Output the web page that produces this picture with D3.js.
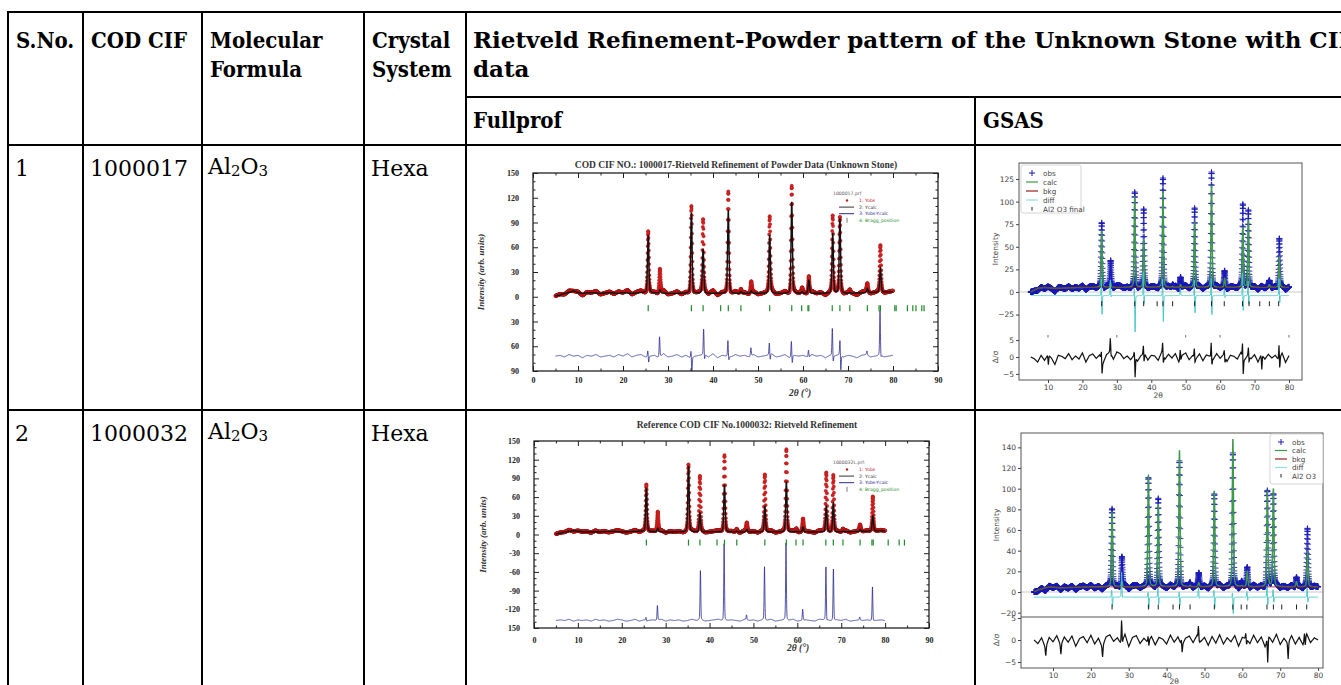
<!DOCTYPE html>
<html>
<head>
<meta charset="utf-8">
<script src="https://cdn.jsdelivr.net/npm/d3@7"></script>
<style>
body { margin: 0; background: #fff; }
svg { display: block; }
</style>
</head>
<body>
<svg width="1341" height="685"></svg>
<script>
// ---------- table text ----------
headLine1 = ['S.No.', 'COD CIF', 'Molecular', 'Crystal']
headLine2 = ['', '', 'Formula', 'System']
spanTitle = 'Rietveld Refinement-Powder pattern of the Unknown Stone with CIF'
spanTitle2 = 'data'
programs = ['Fullprof', 'GSAS']
sNo = ['1', '2']
codCif = ['1000017', '1000032']
formula = [['Al', '2', 'O', '3'], ['Al', '2', 'O', '3']]
crystal = ['Hexa', 'Hexa']

// ---------- Fullprof panels ----------
fpTitles = ['COD CIF NO.: 1000017-Rietveld Refinement of Powder Data (Unknown Stone)',
            'Reference COD CIF No.1000032: Rietveld Refinement']
fpLegendHead = ['1000017.prf', '1000032L.prf:']
fpLegendText = ['1: Yobs', '2: Ycalc', '3: Yobs-Ycalc', '4: Bragg_position']
fp1YTicks = [-90, -60, -30, 0, 30, 60, 90, 120, 150]
fp1YLabels = ['90', '60', '30', '0', '30', '60', '90', '120', '150']
fp2YTicks = [-150, -120, -90, -60, -30, 0, 30, 60, 90, 120, 150]
fp2YLabels = ['150', '-120', '-90', '-60', '-30', '0', '30', '60', '90', '120', '150']
fpXTicks = [0, 10, 20, 30, 40, 50, 60, 70, 80, 90]

// peaks: [2theta, observed max, calculated max]
fp1Peaks = [[25.6, 80, 75], [28.2, 35, 8], [35.2, 112, 102], [37.8, 92, 58], [43.4, 128, 105],
            [46.2, 9, 6], [48.5, 18, 7], [52.6, 95, 75], [57.5, 135, 115], [59.8, 10, 6],
            [61.3, 25, 20], [66.6, 98, 77], [68.2, 95, 95], [70.4, 8, 5], [74.3, 15, 10], [77.2, 62, 35]]
fp2Peaks = [[25.6, 80, 75], [28.2, 36, 10], [35.2, 112, 110], [37.8, 93, 35], [43.4, 128, 80],
            [46.2, 9, 5], [48.5, 18, 8], [52.6, 96, 45], [57.5, 136, 85], [59.8, 10, 5],
            [61.3, 25, 12], [66.6, 99, 45], [68.2, 96, 50], [70.4, 8, 5], [74.3, 15, 8], [77.2, 62, 30]]
fp1Bg = [[5, 1], [6, 2], [7, 4], [8, 5], [9, 7], [10, 5], [11, 4], [13, 5], [15, 4], [17, 5], [19, 4],
         [20, 5], [22, 4], [24, 5], [30, 4], [40, 4], [50, 4], [60, 4], [70, 4], [80, 6]]
fp2Bg = [[5, 1], [6, 2], [7, 4], [8, 5], [9, 6], [10, 5], [12, 4], [15, 4], [18, 5], [20, 4],
         [24, 5], [30, 4], [40, 4], [50, 4], [60, 4], [70, 4], [80, 6]]
fp1Bragg = [25.6, 35.2, 37.8, 41.7, 43.4, 46.2, 52.6, 57.5, 59.7, 61.1, 61.3, 66.5, 68.2, 70.4,
            74.3, 76.9, 77.2, 80.4, 80.7, 83.2, 84.4, 85.1, 86.4, 86.9]
fp2Bragg = [25.6, 35.2, 37.8, 41.7, 43.4, 46.2, 52.6, 57.5, 59.7, 61.3, 66.5, 68.2, 70.4,
            74.3, 77.0, 77.3, 80.7, 83.2, 84.4]
// difference curve: baseline, spikes [2theta, up, down], small wiggle per degree from 5 to 80
fp1DiffBase = -72
fp2DiffBase = -138
fp1DiffSpikes = [[25.6, 8, 8], [28.2, 25, 0], [35.2, 10, 20], [38, 32, 8], [43.4, 20, 6], [48.5, 10, 0],
                 [52.6, 15, 8], [57.5, 20, 10], [61.3, 8, 2], [66.6, 35, 10], [68.3, 20, 20],
                 [74.3, 5, 0], [77.2, 55, 5]]
fp2DiffSpikes = [[25.6, 5, 2], [28.2, 24, 0], [38, 80, 2], [43.4, 125, 2], [48.5, 8, 0], [52.6, 86, 2],
                 [57.5, 125, 2], [61.3, 18, 0], [66.6, 87, 5], [68.3, 84, 2], [74.3, 5, 0], [77.2, 55, 2]]
fp1DiffWiggle = [0, 1, -1, 2, 0, 1, -2, 1, 0, 2, -1, 0, 1, -1, 2, 0, 3, -1, 1, 2, -1, 0, 1, -2, 3,
                 -1, 0, 2, -1, 1, -2, 0, 1, 2, -1, 3, -2, 1, 0, -1, 2, 0, 1, -1, 2, -1, 0, 1, 3, -1,
                 0, 2, -2, 1, 0, 1, -1, 2, 0, 1, -2, 1, 0, 2, -1, 1, 0, -2, 1, 2, -1, 0, 1, -1, 0, 1]
fp2DiffWiggle = [0, 1, 0, 2, -1, 1, 0, 1, -1, 2, 0, 1, -1, 0, 2, 1, -1, 0, 2, -1, 1, 0, 1, 0, 2,
                 -1, 1, 0, 1, -1, 0, 2, 0, 1, -1, 0, 1, 2, -1, 0, 1, 0, -1, 2, 0, 1, -1, 1, 0, 2,
                 -1, 0, 1, 0, 2, -1, 0, 1, 0, -1, 2, 1, 0, -1, 1, 0, 2, -1, 0, 1, 0, 1, -1, 0, 1, 0]

// ---------- GSAS panels ----------
gsLegend1 = ['obs', 'calc', 'bkg', 'diff', 'Al2 O3 final']
gsLegend2 = ['obs', 'calc', 'bkg', 'diff', 'Al2 O3']
gs1YTicks = [-25, 0, 25, 50, 75, 100, 125]
gs2YTicks = [-20, 0, 20, 40, 60, 80, 100, 120, 140]
gsResTicks = [-5, 0, 5]
gsXTicks = [10, 20, 30, 40, 50, 60, 70, 80]
gs1Peaks = [[25.6, 78, 68], [28.2, 33, 10], [35.2, 110, 106], [37.8, 90, 58], [43.4, 125, 112],
            [46.2, 8, 6], [48.5, 17, 8], [52.6, 93, 78], [57.5, 133, 118], [61.3, 23, 15],
            [66.6, 97, 72], [68.2, 90, 80], [74.3, 12, 8], [77.2, 60, 38]]
gs2Peaks = [[25.6, 80, 78], [28.2, 35, 10], [35.2, 111, 113], [37.8, 90, 85], [43.4, 127, 137],
            [46.2, 8, 6], [48.5, 18, 9], [52.6, 95, 98], [57.5, 134, 148], [59.8, 10, 6],
            [61.3, 24, 20], [66.6, 98, 98], [68.2, 95, 100], [70.4, 6, 5], [74.3, 15, 10], [77.2, 60, 38]]
gs1Bg = [[5, 0], [6, 2], [7, 4], [9, 5], [12, 4], [20, 5], [30, 5], [40, 5], [50, 5], [60, 5], [70, 5], [80, 5]]
gs2Bg = [[5, 0], [6, 2], [7, 3], [9, 5], [12, 4], [20, 5], [30, 5], [40, 5], [50, 5], [60, 5], [70, 5], [80, 5]]
gs1Bragg = [25.6, 35.2, 37.8, 41.7, 43.4, 46.2, 52.6, 57.5, 61.2, 66.5, 68.4, 71.5, 74.3, 77.0]
gs2Bragg = [25.6, 35.2, 37.8, 41.7, 43.4, 46.2, 52.6, 57.5, 59.7, 61.2, 66.5, 68.2, 70.4, 74.3, 77.0]
gs1TopMarks = [10, 30, 50, 60, 80]
gs1DiffBase = -4
gs2DiffBase = -5
gs1DiffSpikes = [[25.6, 22, 24], [28.2, 18, 3], [35.2, 12, 42], [37.8, 28, 12], [43.4, 22, 32],
                 [48.5, 8, 0], [52.6, 20, 22], [57.5, 22, 24], [61.3, 8, 3], [66.6, 28, 20],
                 [68.2, 18, 12], [77.2, 20, 10]]
gs2DiffSpikes = [[25.6, 8, 10], [28.2, 25, 2], [35.2, 6, 12], [37.8, 10, 8], [43.4, 6, 9],
                 [48.5, 10, 2], [52.6, 8, 12], [57.5, 6, 17], [61.3, 6, 4], [66.6, 12, 9],
                 [68.2, 8, 6], [77.2, 10, 6]]
gs1ResSpikes = [[10, 0, 3], [25.6, 3, 4.5], [28.2, 4.5, 1], [35.2, 2, 6.5], [37.8, 3, 3], [43.4, 4, 3],
                [48.5, 3, 1], [52.6, 3, 2], [57.5, 5, 3], [61.3, 2, 2], [66.6, 5, 6], [68.3, 3, 2],
                [72, 0, 4.5], [77.2, 5, 4]]
gs2ResSpikes = [[8, 0, 2], [12, 0, 2.2], [23, 0, 2.5], [28.2, 5.5, 1], [35.2, 1.5, 1.5], [44, 1.5, 2],
                [48.5, 3, 1], [61, 1.5, 1.5], [66.6, 1, 5.5], [72, 0, 3.8], [76.5, 2, 2]]
gs1ResWiggle = [0, -0.5, -1.5, 0.5, -1, 0.8, -0.3, -2.2, 0.5, 0.2, -0.5, 1, -0.8, 0.3, -0.6, 1.2,
                -1.5, 0.4, 0.9, -0.4, 0.6, -1.8, 0.7, 1.5, -0.7, 1.5, 1, -0.5, 0.3, -0.8, 0.6, -1.2,
                0.4, 1.1, -0.9, 0.5, 0.3, -1, 1.4, -0.6, 0.8, -0.3, 1, -1.5, 0.5, 1.2, -0.8, 0.4,
                -0.5, 0.9, -1.1, 0.6, 0.2, -0.7, 1, -0.4, 0.8, -1.3, 0.5, 0.2, -0.6, 1.3, -0.9, 0.4,
                -0.5, 0.7, -1.5, 1, -0.6, 0.8, -0.3, 0.5, -0.9, 1.2, -1.6, 0.4]
gs2ResWiggle = [0, -0.8, 0.5, -1.8, 0.6, -0.4, 1, -1.2, 0.7, -0.5, 0.9, -1.4, 0.3, 0.8, -0.6, 1.1,
                -0.9, 0.4, -1.6, 0.7, 1.2, -0.3, 0.5, -1, 1.3, -1.5, 0.6, 1, -0.8, 0.4, -0.5, 0.8,
                -1.1, 0.6, 0.2, -0.9, 1.1, -0.5, 0.7, -1.3, 0.4, 0.9, -0.6, 1, -0.4, 0.6, -1.2, 0.8,
                -0.7, 1.2, -0.9, 0.5, -0.4, 1, -1.4, 0.6, 0.3, -0.8, 1.1, -0.6, 0.7, -1.5, 0.9, -0.5,
                1.3, -1, 0.4, -0.7, 1, -0.9, 0.6, -1.1, 1.4, -0.6, 0.5, 0]

const svg = d3.select('svg')
const serif = "'DejaVu Serif', 'Liberation Serif', serif"
const serifC = "'DejaVu Serif Condensed', 'DejaVu Serif', serif"
const times = "'Liberation Serif', 'Times New Roman', serif"
const sans = "'DejaVu Sans', sans-serif"

// ---------- table ----------
const colX = [8, 83, 202, 364, 466]
const table = svg.append('g')
const hline = (x1, x2, yy) => table.append('line').attr('x1', x1).attr('x2', x2).attr('y1', yy).attr('y2', yy)
    .attr('stroke', '#000').attr('stroke-width', 2)
const vline = (xx, y1, y2) => table.append('line').attr('x1', xx).attr('x2', xx).attr('y1', y1).attr('y2', y2)
    .attr('stroke', '#000').attr('stroke-width', 2)
hline(7, 1341, 12)
hline(466, 1341, 97)
hline(7, 1341, 145)
hline(7, 1341, 410)
colX.forEach(xx => vline(xx, 11, 685))
vline(975, 97, 685)

const head = (x, y, t) => table.append('text').attr('x', x).attr('y', y).attr('font-family', serifC)
    .attr('font-stretch', 'condensed').attr('font-weight', 'bold').attr('font-size', 22).text(t)
headLine1.forEach((t, i) => head(colX[i] + 8, 48, t))
headLine2.forEach((t, i) => head(colX[i] + 8, 77, t))
const wide = (x, y, t) => table.append('text').attr('x', x).attr('y', y).attr('font-family', serif)
    .attr('font-weight', 'bold').attr('font-size', 23).text(t)
const span = wide(473, 48, spanTitle)
const natural = span.node().getComputedTextLength()
span.attr('word-spacing', Math.max(0, (874 - natural) / (spanTitle.split(' ').length - 1)))
wide(473, 77, spanTitle2)
programs.forEach((t, i) => head([473, 983][i], 128, t))

const rowBase = [176, 441]
sNo.forEach((t, i) => {
    const cells = [sNo[i], codCif[i], null, crystal[i]]
    cells.forEach((c, j) => {
        if (c === null) return
        table.append('text').attr('x', colX[j] + 7).attr('y', rowBase[i])
            .attr('font-family', serif).attr('font-size', 22).text(c)
    })
    const f = table.append('text').attr('x', colX[2] + 6).attr('y', rowBase[i])
        .attr('font-family', serif).attr('font-size', 22)
    formula[i].forEach((p, k) => f.append('tspan').attr('font-size', k % 2 ? 15 : 22)
        .attr('dy', k % 2 ? 2 : -2).text(p))
})

// ---------- helpers ----------
const shape = (dx, w) => 0.7 * Math.exp(-Math.LN2 * (dx / w) ** 2) + 0.3 / (1 + (dx / w) ** 2)
const bgScale = pts => d3.scaleLinear().domain(pts.map(p => p[0])).range(pts.map(p => p[1])).clamp(true)
const wiggleScale = arr => d3.scaleLinear().domain(arr.map((_, i) => 5 + i * 75 / (arr.length - 1))).range(arr)

function profile(xs, peaks, bgPts, col, w, wiggle, amp) {
    const bg = bgScale(bgPts)
    const wg = wiggle ? wiggleScale(wiggle) : () => 0
    return xs.map(t => {
        let v = bg(t) + wg(t) * (amp || 0)
        peaks.forEach(p => { v += (p[col] - bg(p[0])) * shape(t - p[0], w) })
        return [t, v]
    })
}
function diffCurve(xs, base, spikes, wiggle, w) {
    const wg = wiggleScale(wiggle)
    return xs.map(t => {
        let v = base + wg(t)
        spikes.forEach(s => { v += s[1] * shape(t - (s[0] - 0.08), w) - s[2] * shape(t - (s[0] + 0.1), w) })
        return [t, v]
    })
}
let clipN = 0
function clipRect(x0, y0, x1, y1) {
    const id = 'clip' + (clipN++)
    svg.append('clipPath').attr('id', id).append('rect').attr('x', x0).attr('y', y0)
        .attr('width', x1 - x0).attr('height', y1 - y0)
    return `url(#${id})`
}

// ---------- Fullprof drawing ----------
function fullprof(c) {
    const g = svg.append('g')
    const x = d3.scaleLinear().domain([0, 90]).range([c.x0, c.x1])
    const y = d3.scaleLinear().domain(c.yDom).range([c.y1, c.y0])
    const xs = d3.range(5, 80.001, 0.03)
    const obs = profile(xs, c.peaks, c.bg, 1, 0.18, c.wiggle, 1.2)
    const calc = profile(xs, c.peaks, c.bg, 2, 0.18)
    const diff = diffCurve(xs, c.diffBase, c.spikes, c.wiggle, 0.1)
    const plot = g.append('g').attr('clip-path', clipRect(c.x0, c.y0, c.x1, c.y1))
    plot.append('g').selectAll('circle').data(obs).join('circle')
        .attr('cx', d => x(d[0])).attr('cy', d => y(d[1])).attr('r', 1.7)
        .attr('fill', '#d42020').attr('stroke', '#a01010').attr('stroke-width', 0.3)
    const line = d3.line().x(d => x(d[0])).y(d => y(d[1]))
    plot.append('path').attr('d', line(calc)).attr('fill', 'none').attr('stroke', '#111').attr('stroke-width', 1.4)
    plot.append('path').attr('d', line(diff)).attr('fill', 'none').attr('stroke', '#2a2a90').attr('stroke-width', 0.8)
    plot.append('g').selectAll('line').data(c.bragg).join('line')
        .attr('x1', d => x(d)).attr('x2', d => x(d)).attr('y1', y(c.braggY) - 3).attr('y2', y(c.braggY) + 3)
        .attr('stroke', '#1e8a2a').attr('stroke-width', 1.2)

    g.append('rect').attr('x', c.x0).attr('y', c.y0).attr('width', c.x1 - c.x0).attr('height', c.y1 - c.y0)
        .attr('fill', 'none').attr('stroke', '#222').attr('stroke-width', 1.3)
    const style = s => {
        s.select('.domain').remove()
        s.selectAll('line').attr('stroke', '#222')
        s.selectAll('text').attr('font-family', times).attr('font-weight', 'bold').attr('font-size', 8).attr('fill', '#222')
    }
    const minorY = d3.range(c.yDom[0], c.yDom[1] + 0.1, 10).filter(v => !c.yTicks.includes(v))
    const minorX = d3.range(0, 90.1, 5).filter(v => !fpXTicks.includes(v))
    g.append('g').attr('transform', `translate(${c.x0},0)`)
        .call(d3.axisLeft(y).tickValues(c.yTicks).tickSize(-5).tickPadding(14).tickFormat((d, i) => c.yLabels[i])).call(style)
    g.append('g').attr('transform', `translate(${c.x0},0)`)
        .call(d3.axisLeft(y).tickValues(minorY).tickSize(-2.5).tickFormat('')).call(style)
    g.append('g').attr('transform', `translate(${c.x1},0)`)
        .call(d3.axisRight(y).tickValues(c.yTicks).tickSize(-5).tickFormat('')).call(style)
    g.append('g').attr('transform', `translate(${c.x1},0)`)
        .call(d3.axisRight(y).tickValues(minorY).tickSize(-2.5).tickFormat('')).call(style)
    g.append('g').attr('transform', `translate(0,${c.y1})`)
        .call(d3.axisBottom(x).tickValues(fpXTicks).tickSize(-5).tickPadding(c.xPad)).call(style)
    g.append('g').attr('transform', `translate(0,${c.y1})`)
        .call(d3.axisBottom(x).tickValues(minorX).tickSize(-2.5).tickFormat('')).call(style)
    g.append('g').attr('transform', `translate(0,${c.y0})`)
        .call(d3.axisTop(x).tickValues(fpXTicks).tickSize(-5).tickFormat('')).call(style)
    g.append('g').attr('transform', `translate(0,${c.y0})`)
        .call(d3.axisTop(x).tickValues(minorX).tickSize(-2.5).tickFormat('')).call(style)

    g.append('text').attr('x', c.titleX).attr('y', c.titleY).attr('text-anchor', 'middle')
        .attr('font-family', times).attr('font-weight', 'bold').attr('font-size', 9.5).attr('fill', '#333').text(c.title)
    g.append('text').attr('transform', `translate(${c.ylabX},${(c.y0 + c.y1) / 2}) rotate(-90)`).attr('text-anchor', 'middle')
        .attr('font-family', times).attr('font-weight', 'bold').attr('font-style', 'italic').attr('font-size', 9)
        .attr('fill', '#333').text('Intensity (arb. units)')
    g.append('text').attr('x', c.xlabX).attr('y', c.xlabY).attr('text-anchor', 'middle')
        .attr('font-family', times).attr('font-weight', 'bold').attr('font-style', 'italic').attr('font-size', 9.5)
        .attr('fill', '#333').text('2θ (°)')

    // legend
    const lg = g.append('g').attr('font-family', sans).attr('font-size', 4.6)
    lg.append('text').attr('x', c.lgX - 12).attr('y', c.lgY).attr('fill', '#555').text(c.lgHead)
    const cols = ['#c02020', '#333', '#2a2a90', '#1e8a2a']
    fpLegendText.forEach((t, i) => {
        const yy = c.lgY + 7 + i * 6.6
        if (i === 0) lg.append('circle').attr('cx', c.lgX + 2).attr('cy', yy - 1.5).attr('r', 1.2).attr('fill', cols[0])
        else if (i === 3) lg.append('line').attr('x1', c.lgX + 2).attr('x2', c.lgX + 2).attr('y1', yy - 4).attr('y2', yy + 1)
            .attr('stroke', '#555').attr('stroke-width', 0.8)
        else lg.append('line').attr('x1', c.lgX - 6).attr('x2', c.lgX + 9).attr('y1', yy - 1.5).attr('y2', yy - 1.5)
            .attr('stroke', cols[i]).attr('stroke-width', 1)
        lg.append('text').attr('x', c.lgX + 14).attr('y', yy).attr('fill', cols[i]).text(t)
    })
}

fullprof({x0: 533, x1: 938, y0: 173, y1: 371, yDom: [-90, 150], yTicks: fp1YTicks, yLabels: fp1YLabels,
    peaks: fp1Peaks, bg: fp1Bg, bragg: fp1Bragg, braggY: -14, diffBase: fp1DiffBase, spikes: fp1DiffSpikes,
    wiggle: fp1DiffWiggle, xPad: 6, title: fpTitles[0], titleX: 736, titleY: 168, ylabX: 484, xlabX: 800, xlabY: 396,
    lgHead: fpLegendHead[0], lgX: 845, lgY: 195})
fullprof({x0: 534, x1: 929, y0: 441, y1: 628, yDom: [-150, 150], yTicks: fp2YTicks, yLabels: fp2YLabels,
    peaks: fp2Peaks, bg: fp2Bg, bragg: fp2Bragg, braggY: -13, diffBase: fp2DiffBase, spikes: fp2DiffSpikes,
    wiggle: fp2DiffWiggle, xPad: 9, title: fpTitles[1], titleX: 747, titleY: 428, ylabX: 486, xlabX: 798, xlabY: 651,
    lgHead: fpLegendHead[1], lgX: 845, lgY: 464})

// ---------- GSAS drawing ----------
function gsas(c) {
    const g = svg.append('g')
    const x = d3.scaleLinear().domain(c.xDom).range([c.x0, c.x1])
    const y = d3.scaleLinear().domain(c.yDom).range([c.ySplit, c.y0])
    const yr = d3.scaleLinear().domain(c.rDom).range([c.y1, c.ySplit])
    const xs = d3.range(5, 80.001, 0.03)
    const xsObs = d3.range(5, 80.001, 0.025)
    const obs = profile(xsObs, c.peaks, c.bg, 1, 0.19, c.resWiggle, 1.6)
    const calc = profile(xs, c.peaks, c.bg, 2, 0.19)
    const bkg = xs.map(t => [t, bgScale(c.bg)(t)])
    const diff = diffCurve(xs, c.diffBase, c.spikes, [0, 0], 0.1)
    const res = diffCurve(d3.range(5, 80.001, 0.1), 0, c.resSpikes, c.resWiggle, 0.12)

    const main = g.append('g').attr('clip-path', clipRect(c.x0, c.y0, c.x1, c.ySplit))
    const line = d3.line().x(d => x(d[0])).y(d => y(d[1]))
    main.append('line').attr('x1', c.x0).attr('x2', c.x1).attr('y1', y(0)).attr('y2', y(0))
        .attr('stroke', '#bbb').attr('stroke-width', 0.8)
    main.append('path').attr('d', obs.map(d => `M${x(d[0]) - 3},${y(d[1])}h6M${x(d[0])},${y(d[1]) - 3}v6`).join(''))
        .attr('stroke', '#1b1bb8').attr('stroke-width', 0.9).attr('fill', 'none')
    main.append('path').attr('d', line(calc)).attr('fill', 'none').attr('stroke', '#3d9a48').attr('stroke-width', 1.4)
    main.append('path').attr('d', line(bkg)).attr('fill', 'none').attr('stroke', '#9a2020').attr('stroke-width', 1)
    main.append('path').attr('d', line(diff)).attr('fill', 'none').attr('stroke', '#48c8c8').attr('stroke-width', 1)
    main.append('g').selectAll('line').data(c.bragg).join('line')
        .attr('x1', d => x(d)).attr('x2', d => x(d)).attr('y1', y(c.braggY) - 2.5).attr('y2', y(c.braggY) + 2.5)
        .attr('stroke', '#222').attr('stroke-width', 1)

    const low = g.append('g').attr('clip-path', clipRect(c.x0, c.ySplit, c.x1, c.y1))
    low.append('path').attr('d', d3.line().x(d => x(d[0])).y(d => yr(d[1]))(res))
        .attr('fill', 'none').attr('stroke', '#111').attr('stroke-width', 1.2)

    g.append('rect').attr('x', c.x0).attr('y', c.y0).attr('width', c.x1 - c.x0).attr('height', c.y1 - c.y0)
        .attr('fill', 'none').attr('stroke', '#555').attr('stroke-width', 1)
    if (c.split) g.append('line').attr('x1', c.x0).attr('x2', c.x1).attr('y1', c.ySplit).attr('y2', c.ySplit)
        .attr('stroke', '#555').attr('stroke-width', 1)
    if (c.topMarks) g.append('g').selectAll('line').data(c.topMarks).join('line')
        .attr('x1', d => x(d)).attr('x2', d => x(d)).attr('y1', c.ySplit).attr('y2', c.ySplit + 2.5)
        .attr('stroke', '#444').attr('stroke-width', 0.8)

    const style = s => {
        s.select('.domain').remove()
        s.selectAll('line').attr('stroke', '#444')
        s.selectAll('text').attr('font-family', sans).attr('font-size', 7.5).attr('fill', '#444')
    }
    g.append('g').attr('transform', `translate(${c.x0},0)`)
        .call(d3.axisLeft(y).tickValues(c.yTicks).tickSize(3).tickPadding(2)).call(style)
    g.append('g').attr('transform', `translate(${c.x0},0)`)
        .call(d3.axisLeft(yr).tickValues(gsResTicks).tickSize(3).tickPadding(2)).call(style)
    g.append('g').attr('transform', `translate(0,${c.y1})`)
        .call(d3.axisBottom(x).tickValues(gsXTicks).tickSize(3).tickPadding(2)).call(style)

    g.append('text').attr('transform', `translate(${c.ylabX},${(c.y0 + c.ySplit) / 2}) rotate(-90)`)
        .attr('text-anchor', 'middle').attr('font-family', sans).attr('font-size', 7.5).attr('fill', '#444').text('Intensity')
    g.append('text').attr('transform', `translate(${c.ylabX},${yr(0)}) rotate(-90)`)
        .attr('text-anchor', 'middle').attr('font-family', sans).attr('font-size', 7.5).attr('fill', '#444').text('Δ/σ')
    g.append('text').attr('x', x(42)).attr('y', c.y1 + c.xlabDy).attr('text-anchor', 'middle')
        .attr('font-family', sans).attr('font-size', 7.5).attr('fill', '#444').text('2θ')

    // legend
    const lg = g.append('g').attr('font-family', sans).attr('font-size', 7.2)
    lg.append('rect').attr('x', c.lgX).attr('y', c.lgY).attr('width', c.lgW).attr('height', c.lgH)
        .attr('fill', '#fff').attr('fill-opacity', 0.85).attr('stroke', '#ccc').attr('stroke-width', 0.8).attr('rx', 2)
    const cols = ['#1b1bb8', '#3d9a48', '#9a2020', '#8fe0e0', '#222']
    c.legend.forEach((t, i) => {
        const yy = c.lgY + 8 + i * c.lgStep
        const mx = c.lgX + 11
        if (i === 0) lg.append('path').attr('d', `M${mx - 3},${yy}h6M${mx},${yy - 3}v6`).attr('stroke', cols[0]).attr('stroke-width', 1)
        else if (i === 4) lg.append('line').attr('x1', mx).attr('x2', mx).attr('y1', yy - 2).attr('y2', yy + 1.5)
            .attr('stroke', cols[4]).attr('stroke-width', 1)
        else lg.append('line').attr('x1', mx - 6).attr('x2', mx + 6).attr('y1', yy).attr('y2', yy)
            .attr('stroke', cols[i]).attr('stroke-width', 1.2)
        lg.append('text').attr('x', mx + 11).attr('y', yy + 2.5).attr('fill', '#444').text(t)
    })
}

gsas({x0: 1019, x1: 1302, xDom: [1.58, 83.78], y0: 163, ySplit: 335, y1: 380, yDom: [-47.6, 142.7],
    rDom: [-6.8, 6.5], yTicks: gs1YTicks, peaks: gs1Peaks, bg: gs1Bg, bragg: gs1Bragg, braggY: -13,
    diffBase: gs1DiffBase, spikes: gs1DiffSpikes, resSpikes: gs1ResSpikes, resWiggle: gs1ResWiggle,
    split: false, topMarks: gs1TopMarks, ylabX: 998, xlabDy: 18, legend: gsLegend1, lgX: 1021, lgY: 165, lgW: 60, lgH: 48, lgStep: 9})
gsas({x0: 1021, x1: 1323, xDom: [1.55, 81.3], y0: 433, ySplit: 617, y1: 668, yDom: [-24.2, 153.9],
    rDom: [-6.36, 5.23], yTicks: gs2YTicks, peaks: gs2Peaks, bg: gs2Bg, bragg: gs2Bragg, braggY: -14.5,
    diffBase: gs2DiffBase, spikes: gs2DiffSpikes, resSpikes: gs2ResSpikes, resWiggle: gs2ResWiggle,
    split: true, topMarks: null, ylabX: 999, xlabDy: 16, legend: gsLegend2, lgX: 1270, lgY: 434, lgW: 53, lgH: 50, lgStep: 8.5})
</script>
</body>
</html>
